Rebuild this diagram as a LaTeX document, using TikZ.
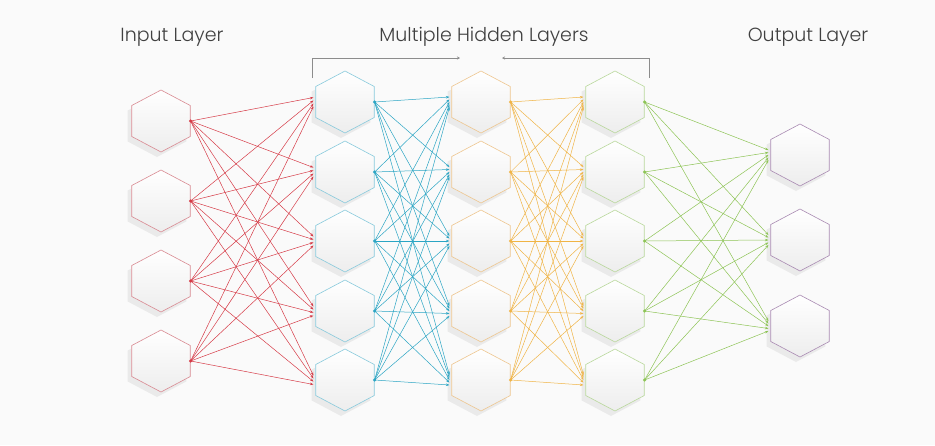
\documentclass[tikz,border=0pt]{standalone}
\usepackage{fontspec}
\setmainfont{Poppins}[UprightFont=* Light]
\usepackage{xcolor}
\usetikzlibrary{arrows.meta, shapes.geometric, shadows}

\definecolor{inlink}{HTML}{D63B47}
\definecolor{inhex}{HTML}{D98A92}
\definecolor{alink}{HTML}{2BA5C4}
\definecolor{ahex}{HTML}{88CADC}
\definecolor{blink}{HTML}{F0B445}
\definecolor{bhex}{HTML}{EEC68F}
\definecolor{clink}{HTML}{8DC455}
\definecolor{chex}{HTML}{B9D89C}
\definecolor{outhex}{HTML}{A98AB2}

\begin{document}
\begin{tikzpicture}[x=1pt, y=-1pt,
  hex/.style={regular polygon, regular polygon sides=6, shape border rotate=30,
    minimum size=62pt, inner sep=0pt, line width=0.6pt, xscale=1.09, transform shape,
    top color=white, bottom color=black!7,
    drop shadow={shadow xshift=-4pt, shadow yshift=-5pt, opacity=0.13}},
  title/.style={font=\fontsize{19}{21}\selectfont, text=black!75},
  link/.style={line width=0.5pt, -{Stealth[length=3.5pt, width=2.6pt]}},
  bracket/.style={draw=black!45, line width=0.8pt, -{Stealth[length=3pt, width=3pt]}}
]
\fill[black!2] (0,0) rectangle (935,445);
\useasboundingbox (0,0) rectangle (935,445);

% titles
\node[title] (tin) at (172,37) {Input Layer};
\node[title] (thid) at (484,37) {Multiple Hidden Layers};
\node[title] (tout) at (808,37) {Output Layer};

% bracket over the hidden layers
\coordinate (brL) at (312,78);
\coordinate (brLe) at (460,58);
\coordinate (brR) at (649,78);
\coordinate (brRe) at (502,58);
\draw[bracket] (brL) |- (brLe);
\draw[bracket] (brR) |- (brRe);

% neurons
\foreach \y [count=\i] in {121,201,281,361}
  \node[hex, draw=inhex] (i\i) at (161,\y) {};
\foreach \y [count=\i] in {102,172,241,311,380} {
  \node[hex, draw=ahex] (a\i) at (345,\y) {};
  \node[hex, draw=bhex] (b\i) at (481,\y) {};
  \node[hex, draw=chex] (c\i) at (615,\y) {};
}
\foreach \y [count=\i] in {155,240,326}
  \node[hex, draw=outhex] (o\i) at (800,\y) {};

% links
\foreach \s in {1,...,4}
  \foreach \t in {1,...,5}
    \draw[link, inlink] (i\s.east) -- ([xshift=-2pt, yshift={(2.5-\s)*3pt}]a\t.west);
\foreach \s in {1,...,5}
  \foreach \t in {1,...,5} {
    \draw[link, alink] (a\s.east) -- ([xshift=-2pt, yshift={(3-\s)*2.5pt}]b\t.west);
    \draw[link, blink] (b\s.east) -- ([xshift=-2pt, yshift={(3-\s)*2.5pt}]c\t.west);
  }
\foreach \s in {1,...,5}
  \foreach \t in {1,...,3}
    \draw[link, clink] (c\s.east) -- ([xshift=-2pt, yshift={(3-\s)*2.5pt}]o\t.west);

% dots on the outgoing side
\foreach \s in {1,...,4}
  \fill[inlink] (i\s.east) circle (1.7pt);
\foreach \s in {1,...,5} {
  \fill[alink] (a\s.east) circle (1.7pt);
  \fill[blink] (b\s.east) circle (1.7pt);
  \fill[clink] (c\s.east) circle (1.7pt);
}
\end{tikzpicture}
\end{document}
